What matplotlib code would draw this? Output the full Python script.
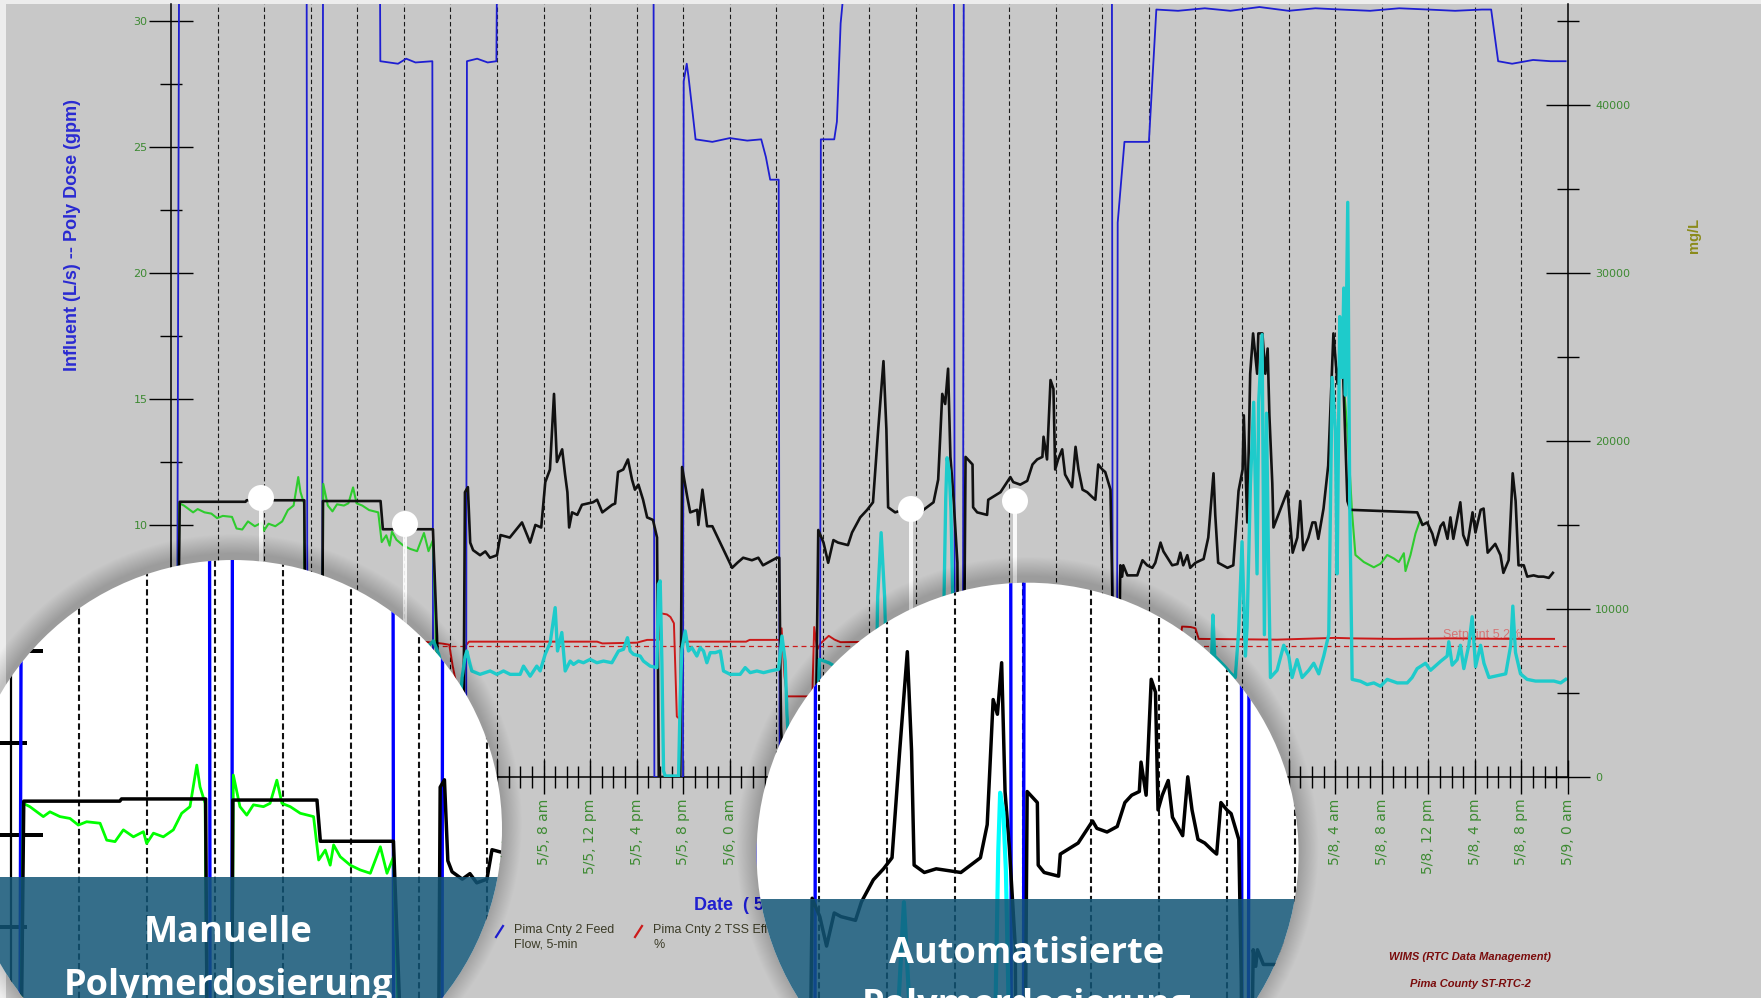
import matplotlib
matplotlib.use("Agg")
import matplotlib.pyplot as plt
from matplotlib.patches import Circle, Rectangle
from matplotlib.lines import Line2D

# ---------------- data (hours after 5/4 0 am) ----------------
flow_t = [0.0, 0.5, 0.62, 0.7, 11.65, 11.72, 12.98, 13.06, 17.94, 17.98, 19.5, 20.2, 21.0, 22.45, 22.52,
          25.35, 25.42, 26.3, 27.2, 27.95, 28.02, 41.45, 41.52, 43.98, 44.04, 44.3, 44.45, 44.82, 45.06,
          46.5, 48.0, 49.5, 50.7, 51.1, 51.47, 52.2, 52.28, 55.75, 55.82, 56.97, 57.2, 57.52, 58.15,
          67.25, 67.33, 68.02, 68.1, 80.82, 80.9, 81.25, 81.32, 81.9, 84.0, 84.64, 86.5, 88.8, 91.0,
          93.5, 96.0, 98.3, 100.5, 103.0, 105.5, 108.0, 110.3, 112.6, 113.4, 114.0, 115.2, 117.0, 118.5, 119.8]
flow_v = [0, 0, 20, 33, 33, 0, 0, 33, 33, 28.4, 28.3, 28.5, 28.35, 28.4, 0,
          0, 28.4, 28.5, 28.35, 28.4, 33, 33, 0, 0, 27.6, 28.3, 27.8, 26.3, 25.3,
          25.2, 25.35, 25.25, 25.3, 24.6, 23.7, 23.7, 0, 0, 25.3, 25.3, 26.0, 29.9, 33,
          33, 0, 0, 33, 33, 0, 0, 22.0, 25.2, 25.2, 30.45, 30.4, 30.5, 30.4,
          30.55, 30.4, 30.5, 30.45, 30.4, 30.5, 30.45, 30.4, 30.45, 30.45, 28.4, 28.3, 28.45, 28.4, 28.4]

dose_set_t = [0.5, 0.75, 6.4, 6.5, 11.45, 11.6, 12.95, 13.05, 18.0, 18.2, 22.5, 23.3,
              25.1, 25.25, 25.5, 25.7, 25.95, 26.55, 27.0, 27.4, 28.0, 28.3, 29.1, 30.15, 30.85, 31.3,
              31.8, 32.15, 32.55, 32.9, 33.15, 33.6, 33.85, 34.05, 34.2, 34.45, 34.9, 35.3, 36.25,
              36.6, 37.05, 37.9, 38.15, 38.4, 38.85, 39.25, 39.6, 39.85, 40.15, 40.55, 40.9, 41.4,
              41.75, 41.9, 43.75, 43.9, 44.35, 44.6, 45.2, 45.3, 45.65, 46.05, 46.5, 48.2, 48.65,
              49.15, 49.9, 50.45, 50.85, 52.05, 52.25, 52.4, 52.6,
              55.35, 55.6, 56.05, 56.45, 56.9, 57.3, 58.15, 58.5, 59.2, 59.8, 60.3, 60.75, 61.2,
              61.45, 61.6, 62.2, 62.9, 64.35, 65.5, 65.9, 66.25, 66.5, 66.75, 66.95, 67.2, 67.55,
              67.65, 68.05, 68.25, 68.85, 68.9, 69.25, 70.1, 70.2, 71.25, 72.1, 72.35, 72.95, 73.55,
              74.0, 74.4, 74.85, 74.95, 75.25, 75.55, 75.8, 75.95, 76.2, 76.55, 76.8, 77.4, 77.7,
              77.95, 78.3, 78.7, 79.15, 79.4, 79.65, 80.0, 80.25, 80.7, 80.85, 80.95,
              81.3, 81.55, 81.7, 81.8, 82.15, 83.0, 83.45, 83.85, 84.3, 84.55, 85.0, 85.25, 86.0,
              86.45, 86.7, 86.95, 87.3, 87.55, 88.0, 88.7, 89.1, 89.55, 89.7, 89.95, 90.75, 91.25,
              91.7, 92.05, 92.15, 92.3, 92.45, 92.7, 92.95, 93.3, 93.4, 93.75, 94.0, 94.2, 94.35,
              94.6, 94.7, 95.9, 96.35, 96.75, 97.0, 97.25, 97.7, 98.05, 98.3, 98.55, 99.0, 99.4,
              99.85, 100.2, 100.45, 100.7, 101.05, 101.3, 107.05, 107.5, 107.9, 108.35, 108.6,
              109.05, 109.3, 109.65, 109.9, 110.15, 110.75, 111.0, 111.35, 111.8, 112.05, 112.5,
              112.75, 113.1, 113.75, 114.2, 114.45, 114.9, 115.25, 115.5, 115.75, 116.2, 116.5,
              117.05, 117.45, 117.9, 118.35, 118.7]
dose_set_v = [0, 10.92, 10.92, 10.98, 10.98, 0, 0, 10.95, 10.95, 9.83, 9.83, 0,
              0, 11.3, 11.5, 9.3, 9.0, 8.8, 8.95, 8.7, 8.8, 9.6, 9.5, 10.1, 9.3, 10.0,
              9.9, 11.7, 12.2, 15.2, 12.5, 13.0, 12.0, 11.3, 9.9, 10.5, 10.4, 10.8, 10.9,
              11.0, 10.5, 10.8, 10.85, 12.1, 12.2, 12.6, 11.8, 11.4, 11.6, 11.0, 10.3, 10.2,
              9.5, 0, 0, 12.3, 11.1, 10.5, 10.6, 10.0, 11.4, 9.95, 9.95, 8.3, 8.5,
              8.7, 8.6, 8.7, 8.4, 8.7, 8.7, 2.0, 0,
              0, 9.8, 9.3, 8.5, 9.4, 9.3, 9.2, 9.7, 10.3, 10.6, 10.9, 13.8, 16.5,
              13.8, 10.7, 10.5, 10.6, 10.5, 10.9, 11.8, 15.2, 14.8, 16.2, 12.7, 11.2, 8.5,
              0, 0, 12.7, 12.4, 10.7, 10.5, 10.4, 11.0, 11.3, 11.9, 11.7, 11.6, 11.75,
              12.4, 12.6, 12.7, 13.5, 12.6, 15.75, 15.4, 12.2, 12.6, 13.0, 12.0, 11.5, 13.1,
              12.2, 11.4, 11.3, 11.1, 11.0, 12.4, 12.2, 12.1, 11.4, 7.5, 0,
              0, 8.4, 7.95, 8.4, 8.0, 8.0, 8.6, 8.4, 8.3, 8.5, 9.3, 8.95, 8.4,
              8.45, 8.9, 8.4, 8.8, 8.3, 8.5, 8.65, 9.5, 12.05, 10.4, 8.5, 8.3, 8.4,
              11.35, 12.2, 14.35, 12.2, 10.1, 16.0, 17.6, 16.0, 17.6, 17.6, 16.0, 17.0, 14.35,
              11.65, 9.9, 11.35, 8.9, 9.5, 10.95, 9.0, 9.5, 10.1, 10.1, 9.45, 10.65, 12.35,
              17.6, 15.6, 16.75, 15.75, 10.95, 10.6, 10.5, 10.0, 10.1, 9.65, 9.2,
              9.95, 10.1, 9.45, 10.3, 9.45, 10.9, 9.6, 9.2, 10.5, 9.7, 10.6,
              10.65, 8.9, 9.25, 8.8, 8.1, 8.6, 12.05, 10.95, 8.4, 8.4, 7.95,
              8.0, 7.95, 7.95, 7.9, 8.1]

dose_manual_t = [0.5, 0.72, 1.11, 1.9, 2.29, 2.88, 3.47, 3.96, 4.45, 5.24, 5.63, 6.12, 6.61, 7.2,
                 7.79, 7.98, 8.38, 8.96, 9.55, 10.04, 10.53, 10.93, 11.12, 11.42, 11.6,
                 12.95, 13.08, 13.47, 13.87, 14.26, 14.85, 15.24, 15.64, 15.94, 16.43, 17.02, 17.8,
                 18.1, 18.49, 18.78, 18.98, 19.37, 19.96, 20.55, 21.14, 21.73, 22.12, 22.51, 23.1]
dose_manual_v = [0, 10.86, 10.77, 10.5, 10.63, 10.5, 10.45, 10.27, 10.36, 10.32, 9.86, 9.82, 10.14, 9.95,
                 10.09, 9.77, 10.05, 9.95, 10.14, 10.59, 10.77, 11.9, 11.31, 10.86, 0,
                 0, 11.63, 10.77, 10.54, 10.82, 10.77, 10.86, 11.49, 10.86, 10.77, 10.59, 10.5,
                 9.32, 9.59, 9.18, 9.73, 9.41, 9.18, 9.05, 8.96, 9.68, 8.96, 9.41, 0]

dose_auto_t = [100.7, 101.05, 101.45, 101.74, 102.46, 103.32, 103.89, 104.47, 105.04, 105.47,
               105.9, 106.04, 106.47, 106.9, 107.33, 107.5]
dose_auto_v = [15.75, 13.8, 10.5, 8.81, 8.53, 8.32, 8.46, 8.81, 8.67, 8.53,
               8.88, 8.17, 8.81, 9.66, 10.23, 10.0]

tss_t = [0, 4, 8, 12, 16, 20, 22.26, 22.54, 23.0, 23.5, 24.0, 24.5, 25.0, 25.26, 25.41, 25.69, 25.84,
         26.55, 27.41, 27.99, 28.56, 29.13, 29.99, 30.28, 30.85, 31.42, 31.71, 32.14, 32.57, 33.0, 33.2,
         33.57, 33.86, 34.29, 34.57, 35.0, 35.43, 36.0, 36.58, 37.15, 37.87, 38.44, 38.87, 39.21, 39.44,
         39.73, 40.3, 40.58, 41.16, 41.74, 41.87, 42.02, 42.17, 42.31, 42.45, 43.6, 43.74, 43.88, 44.17,
         44.45, 44.74, 45.17, 45.46, 45.74, 46.03, 46.32, 46.75, 47.18, 47.46, 48.03, 48.89, 49.32, 49.75,
         50.33, 50.9, 51.47, 52.19, 52.48, 52.76, 52.91, 53.2, 55.4, 55.7, 56.5, 58.0, 59.5, 60.6, 60.7,
         60.85, 61.0, 61.15, 61.3, 61.45, 63.0, 64.5, 66.2, 66.4, 66.55, 66.66, 66.85, 67.0, 67.15, 67.3,
         67.6, 68.1, 68.3, 70.0, 72.0, 75.0, 78.0, 80.5, 80.9, 81.3, 81.6, 83.0, 85.0, 87.0, 89.2, 89.4,
         89.5, 89.65, 90.5, 91.0, 91.42, 91.71, 92.0, 92.29, 92.43, 92.72, 93.0, 93.29, 93.43, 93.72,
         93.92, 94.1, 94.29, 94.44, 95.01, 95.58, 96.01, 96.3, 96.73, 97.16, 97.73, 98.16, 98.59, 99.02,
         99.45, 99.74, 100.02, 100.17, 100.39, 100.6, 100.74, 100.88, 101.08, 101.25, 101.46, 102.17,
         102.75, 103.32, 103.89, 104.47, 105.33, 106.19, 106.61, 107.04, 107.76, 108.19, 109.05, 109.62,
         109.76, 110.05, 110.48, 110.76, 111.05, 111.48, 111.77, 112.06, 112.49, 112.78, 113.21, 113.93,
         114.65, 115.08, 115.26, 115.49, 115.92, 116.49, 117.21, 117.93, 118.79, 119.37, 119.8]
tss_v = [6500, 6600, 6400, 6700, 6500, 6800, 7900, 8100, 7300, 6000, 2000, 500, 5900, 7150, 7500, 6700, 6310,
         6110, 6310, 6110, 6310, 6110, 6110, 6600, 6000, 6600, 6310, 7300, 7990, 10080, 7500,
         8600, 6310, 6900, 6700, 6900, 6800, 7000, 6800, 6900, 6800, 7500, 7600, 8290, 7500,
         7300, 7200, 6900, 6600, 6510, 11470, 11670, 6700, 360, 60, 60, 4720, 7600, 8690,
         7500, 7700, 7200, 7700, 7500, 6800, 7400, 7400, 7500, 6310, 6110, 6110, 6510, 6210,
         6310, 6210, 6310, 6410, 8390, 6900, 3730, 500, 300, 7000, 6800, 6200, 6500, 6500, 10670,
         12600, 14540, 12600, 10670, 6500, 6300, 6100, 6500, 10670, 16600, 19000, 18200, 15800, 10670, 3000,
         500, 500, 6500, 6200, 6800, 6400, 6600, 6500, 500, 500, 6500, 6300, 6200, 6400, 6500, 7400,
         9640, 7200, 6600, 6200, 5920, 8690, 14000, 7200, 8900, 17400, 22300, 12090, 22300, 26330,
         8470, 21650, 12090, 5920, 6350, 7840, 7200, 5920, 6985, 5920, 6350, 6770, 6140, 7200,
         8480, 23780, 20600, 12090, 27400, 23780, 29100, 22720, 34200, 16340, 5810, 5700,
         5500, 5600, 5400, 5810, 5600, 5600, 5920, 6450, 6770, 6350, 6880, 7200,
         8050, 6660, 6985, 7840, 6450, 7840, 9540, 6560, 7840, 6770, 5920, 6030,
         6140, 7840, 10170, 7410, 6140, 5810, 5710, 5710, 5710, 5600, 5810]

eff_t = [0, 10, 21.6, 23.2, 23.9, 24.2, 24.55, 25.1, 25.3, 25.6, 30.0, 36.6, 37.05, 40.0, 40.9, 41.9,
         42.0, 42.6, 42.9, 43.2, 43.45, 43.7, 44.0, 49.4, 49.7, 52.3, 52.45, 52.7, 52.9, 54.8, 55.1,
         55.25, 55.5, 55.8, 56.5, 57.0, 57.5, 70.0, 80.0, 86.7, 86.85, 87.6, 88.0, 88.28, 95.0, 100.0,
         101.5, 105.0, 110.0, 115.0, 118.8]
eff_v = [5.4, 5.38, 5.37, 5.3, 5.25, 4.4, 3.6, 3.3, 5.2, 5.37, 5.37, 5.37, 5.3, 5.33, 5.44, 5.44,
         6.5, 6.45, 6.35, 6.1, 2.4, 2.3, 5.37, 5.37, 5.44, 5.44, 5.9, 4.0, 3.2, 3.2, 3.45,
         5.95, 5.05, 5.3, 5.6, 5.45, 5.35, 5.4, 5.38, 5.4, 5.97, 5.95, 5.9, 5.48, 5.45, 5.52,
         5.5, 5.48, 5.5, 5.48, 5.48]
setpoint = 5.2

x_major = [0, 4, 8, 12, 16, 20, 24, 28, 32, 36, 40, 44, 48, 52, 56, 60, 64, 68, 72, 76, 80, 84, 88,
           92, 96, 100, 104, 108, 112, 116, 120]
x_labels = ["5/4, 0 am", "5/4, 4 am", "5/4, 8 am", "5/4, 12 pm", "5/4, 4 pm", "5/4, 8 pm",
            "5/5, 0 am", "5/5, 4 am", "5/5, 8 am", "5/5, 12 pm", "5/5, 4 pm", "5/5, 8 pm",
            "5/6, 0 am", "5/6, 4 am", "5/6, 8 am", "5/6, 12 pm", "5/6, 4 pm", "5/6, 8 pm",
            "5/7, 0 am", "5/7, 4 am", "5/7, 8 am", "5/7, 12 pm", "5/7, 4 pm", "5/7, 8 pm",
            "5/8, 0 am", "5/8, 4 am", "5/8, 8 am", "5/8, 12 pm", "5/8, 4 pm", "5/8, 8 pm", "5/9, 0 am"]
x_minor = list(range(0, 121))
yl_major = [0, 5, 10, 15, 20, 25, 30]
yl_minor = [2.5, 7.5, 12.5, 17.5, 22.5, 27.5]
yr_major = [0, 10000, 20000, 30000, 40000]
yr_minor = [5000, 15000, 25000, 35000, 45000]

# ---------------- layout / style ----------------
FW, FH, DPI = 1761, 998, 100
BG = '#c8c8c8'
AX_L, AX_R, AX_T, AX_B = 171, 1568, 4, 777
X_MAX = 120
Y_TOP = 30.67
MG_PER_UNIT = 1500.0
TXT_GREEN = '#3d8a32'
BLUE, BLACK, GREEN, CYAN, RED = '#1e1ed2', '#111111', '#2ecc2e', '#1ecbcb', '#cc1a1a'

fig = plt.figure(figsize=(FW / DPI, FH / DPI), dpi=DPI)
fig.patch.set_facecolor(BG)
T = fig.dpi_scale_trans


def px2in(x, y):
    return (x / DPI, (FH - y) / DPI)


def frac(x, y):
    return (x / FW, 1 - y / FH)


# light border strips
fig.add_artist(Rectangle((0, 0), 6 / DPI, FH / DPI, transform=T, facecolor='#ededed', edgecolor='none', zorder=-1))
fig.add_artist(Rectangle((0, (FH - 4) / DPI), FW / DPI, 4 / DPI, transform=T, facecolor='#ededed', edgecolor='none', zorder=-1))

# ---------------- main chart ----------------
ax = fig.add_axes([AX_L / FW, 1 - AX_B / FH, (AX_R - AX_L) / FW, (AX_B - AX_T) / FH], zorder=0)
ax.set_facecolor(BG)
ax.set_xlim(0, X_MAX)
ax.set_ylim(0, Y_TOP)
axr = ax.twinx()
axr.set_ylim(0, Y_TOP * MG_PER_UNIT)

for s in ['top', 'right']:
    ax.spines[s].set_visible(False)
for s in ['top', 'left', 'bottom']:
    axr.spines[s].set_visible(False)
ax.spines['left'].set_linewidth(1.1)
ax.spines['bottom'].set_linewidth(1.1)
axr.spines['right'].set_linewidth(1.1)

ax.set_xticks(x_major)
ax.set_xticklabels(x_labels, rotation=90, fontsize=10, color=TXT_GREEN)
ax.set_xticks(x_minor, minor=True)
ax.tick_params(axis='x', which='major', direction='inout', length=25, width=1.0, pad=3)
ax.tick_params(axis='x', which='minor', direction='inout', length=16, width=1.0)
ax.set_yticks(yl_major)
ax.set_yticklabels([str(v) for v in yl_major], fontsize=8, color=TXT_GREEN)
ax.set_yticks(yl_minor, minor=True)
ax.tick_params(axis='y', which='major', direction='inout', length=32, width=1.0, pad=1)
ax.tick_params(axis='y', which='minor', direction='inout', length=16, width=1.0)
axr.set_yticks(yr_major)
axr.set_yticklabels([str(v) for v in yr_major], fontsize=8, color=TXT_GREEN)
axr.set_yticks(yr_minor, minor=True)
axr.tick_params(axis='y', which='major', direction='inout', length=32, width=1.0, pad=3.5)
axr.tick_params(axis='y', which='minor', direction='inout', length=16, width=1.0)

ax.vlines(x_major[1:-1], 0, 1, transform=ax.get_xaxis_transform(), colors='#1a1a1a',
          linestyles=[(0, (4, 2.5))], linewidth=0.8, zorder=1)

ax.plot([0, flow_t[-1]], [setpoint, setpoint], color=RED, lw=0.9, ls=(0, (4, 3)), zorder=2)
ax.plot(eff_t, eff_v, color=RED, lw=1.4, zorder=2)
ax.plot(flow_t, flow_v, color=BLUE, lw=1.3, zorder=3)
ax.plot(dose_manual_t, dose_manual_v, color=GREEN, lw=1.5, zorder=4)
ax.plot(dose_auto_t, dose_auto_v, color=GREEN, lw=1.5, zorder=4)
ax.plot(dose_set_t, dose_set_v, color=BLACK, lw=1.9, zorder=5)
axr.plot(tss_t, tss_v, color=CYAN, lw=2.4, zorder=2)
ax.text(109.3, 5.62, f'Setpoint {setpoint}%', color='#e03030', alpha=0.55, fontsize=9,
        family='Liberation Sans', ha='left', va='center', zorder=6)

# axis titles and footer texts
fig.text(*frac(73, 235), 'Influent (L/s) -- Poly Dose (gpm)', rotation=90, ha='center', va='center',
         color='#2a2ad2', fontsize=13, fontweight='bold', family='Liberation Sans', zorder=0.8)
fig.text(*frac(1694, 235), 'mg/L', rotation=90, ha='center', va='center', color='#8b8b1a',
         fontsize=10.5, fontweight='bold', family='Liberation Sans', zorder=0.8)
fig.text(*frac(694, 906), 'Date  ( 5/4/2015 - 5/9/2015 )', ha='left', va='center', color='#2020d0',
         fontsize=13, fontweight='bold', family='Liberation Sans', zorder=0.8)
for (x0, col, lab) in [(496, BLUE, 'Pima Cnty 2 Feed\nFlow, 5-min'),
                       (635, RED, 'Pima Cnty 2 TSS Effluent,\n%')]:
    p0, p1 = frac(x0, 937), frac(x0 + 7, 926)
    fig.add_artist(Line2D([p0[0], p1[0]], [p0[1], p1[1]], transform=fig.transFigure, color=col, lw=1.6, zorder=0.8))
    fig.text(*frac(x0 + 18, 924), lab, ha='left', va='top', color='#3c3c28', fontsize=9,
             family='Liberation Sans', linespacing=1.3, zorder=0.8)
fig.text(*frac(1470, 957), 'WIMS (RTC Data Management)', ha='center', va='center', color='#7a0c0c',
         fontsize=8, fontweight='bold', style='italic', family='Liberation Sans', zorder=0.8)
fig.text(*frac(1470, 984), 'Pima County ST-RTC-2', ha='center', va='center', color='#7a0c0c',
         fontsize=8, fontweight='bold', style='italic', family='Liberation Sans', zorder=0.8)

# ---------------- magnifier circles ----------------
circles = [
    dict(cx=233, cy=829, r=269, h0=4.0, px0=79, v0=10.0, py0=835, band=877,
         lines=[('Manuelle', 228, 942), ('Polymerdosierung', 228, 995)],
         pins=[(261, 498), (405, 524)]),
    dict(cx=1027.6, cy=853.7, r=271, h0=68.0, px0=1022.9, v0=16.5, py0=651.7, band=899,
         lines=[('Automatisierte', 1026.7, 963), ('Polymerdosierung', 1026.7, 1015)],
         pins=[(911, 509), (1015, 501)]),
]
MAG = 1.46
BAND = (18 / 255, 85 / 255, 118 / 255)

for c in circles:
    cx, cy, r = c['cx'], c['cy'], c['r']
    # pins
    for (px, py) in c['pins']:
        a, b = frac(px, py), frac(px, py + 160)
        fig.add_artist(Line2D([a[0], b[0]], [a[1], b[1]], transform=fig.transFigure, color='white',
                              lw=2.9, alpha=0.9, zorder=0.9, solid_capstyle='butt'))
        fig.add_artist(Circle(px2in(px, py), 13 / DPI, transform=T, facecolor='white', edgecolor='none', zorder=0.95))
    # soft shadow, mostly on the upper rim
    for k in range(22, 0, -1):
        fig.add_artist(Circle(px2in(cx, cy - 6), (r + k * 0.9) / DPI, transform=T, facecolor='black',
                              edgecolor='none', alpha=0.009, zorder=1.0))
    fig.add_artist(Circle(px2in(cx, cy), r / DPI, transform=T, facecolor='white', edgecolor='none', zorder=1.1))
    clip = Circle(px2in(cx, cy), r / DPI, transform=T)

    pph = MAG * (AX_R - AX_L) / X_MAX
    ppu = MAG * (AX_B - AX_T) / Y_TOP
    xl = (c['h0'] - c['px0'] / pph, c['h0'] + (FW - c['px0']) / pph)
    yl = (c['v0'] - (FH - c['py0']) / ppu, c['v0'] + c['py0'] / ppu)
    ai = fig.add_axes([0, 0, 1, 1], zorder=2)
    ai.set_xlim(*xl); ai.set_ylim(*yl); ai.axis('off')
    air = fig.add_axes([0, 0, 1, 1], zorder=2.1)
    air.set_xlim(*xl); air.set_ylim(yl[0] * MG_PER_UNIT, yl[1] * MG_PER_UNIT); air.axis('off')

    arts = [ai.vlines(x_major[1:-1], yl[0], yl[1], colors='#111111', linestyles=[(0, (3, 1.6))], linewidth=1.5)]
    arts.append(ai.axvline(0, color='black', lw=1.6))
    arts += ai.plot([0] * len(yl_major), yl_major, ls='none', marker='_', ms=46, mew=1.6, color='black')
    arts += ai.plot([0] * len(yl_minor), yl_minor, ls='none', marker='_', ms=23, mew=1.6, color='black')
    arts += ai.plot(eff_t, eff_v, color='#ff0000', lw=2.0)
    arts += ai.plot(flow_t, flow_v, color='#0000ff', lw=2.4)
    arts += ai.plot(dose_manual_t, dose_manual_v, color='#00ff00', lw=2.0)
    arts += ai.plot(dose_auto_t, dose_auto_v, color='#00ff00', lw=2.0)
    arts += ai.plot(dose_set_t, dose_set_v, color='black', lw=2.5)
    arts += air.plot(tss_t, tss_v, color='#00ffff', lw=3.0)
    for a in arts:
        a.set_clip_path(clip)

    band = Rectangle(px2in(cx - r, FH), 2 * r / DPI, (FH - c['band']) / DPI, transform=T,
                     facecolor=BAND, alpha=0.85, edgecolor='none', zorder=3)
    fig.add_artist(band)
    band.set_clip_path(clip)
    for (txt, tx, ty) in c['lines']:
        fig.text(*frac(tx, ty), txt, ha='center', va='baseline', color='white', fontsize=26,
                 fontweight='bold', family='Open Sans', zorder=4)

fig.savefig('out.png', dpi=DPI, facecolor=BG)
